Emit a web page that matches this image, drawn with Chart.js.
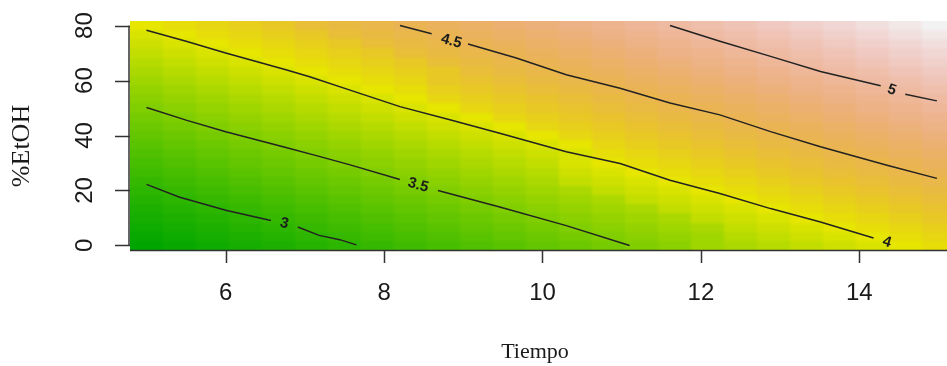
<!DOCTYPE html>
<html>
<head>
<meta charset="utf-8">
<script src="https://cdn.jsdelivr.net/npm/chart.js@4.4.0/dist/chart.umd.min.js"></script>
<style>
html, body { margin:0; padding:0; background:#fff; overflow:hidden; }
canvas { display:block; }
</style>
</head>
<body>
<canvas id="grafica" width="955" height="366" style="width:955px;height:366px"></canvas>
<script>
// rejilla: Tiempo (columnas) y %EtOH (filas)
var tiempos = [5.000, 5.417, 5.833, 6.250, 6.667, 7.083, 7.500, 7.917, 8.333, 8.750, 9.167, 9.583, 10.000,
    10.417, 10.833, 11.250, 11.667, 12.083, 12.500, 12.917, 13.333, 13.750, 14.167, 14.583, 15.000]
var etanol = [0, 3.333, 6.667, 10, 13.333, 16.667, 20, 23.333, 26.667, 30, 33.333, 36.667, 40,
    43.333, 46.667, 50, 53.333, 56.667, 60, 63.333, 66.667, 70, 73.333, 76.667, 80]

// respuesta estimada en cada celda (fila = %EtOH, de 0 a 80)
var respuesta = [
    [2.60,2.67,2.73,2.79,2.85,2.91,2.97,3.03,3.09,3.16,3.22,3.28,3.34,3.40,3.46,3.52,3.58,3.65,3.71,3.77,3.83,3.89,3.95,4.01,4.07],
    [2.66,2.72,2.79,2.85,2.91,2.97,3.03,3.09,3.15,3.21,3.28,3.34,3.40,3.46,3.52,3.58,3.64,3.70,3.77,3.83,3.89,3.95,4.01,4.07,4.13],
    [2.72,2.78,2.85,2.91,2.97,3.03,3.09,3.15,3.21,3.27,3.34,3.40,3.46,3.52,3.58,3.64,3.70,3.76,3.83,3.89,3.95,4.01,4.07,4.13,4.19],
    [2.78,2.84,2.91,2.97,3.03,3.09,3.15,3.21,3.27,3.33,3.40,3.46,3.52,3.58,3.64,3.70,3.76,3.82,3.89,3.95,4.01,4.07,4.13,4.19,4.25],
    [2.84,2.90,2.97,3.03,3.09,3.15,3.21,3.27,3.33,3.39,3.46,3.52,3.58,3.64,3.70,3.76,3.82,3.88,3.95,4.01,4.07,4.13,4.19,4.25,4.31],
    [2.90,2.96,3.02,3.09,3.15,3.21,3.27,3.33,3.39,3.45,3.51,3.58,3.64,3.70,3.76,3.82,3.88,3.94,4.00,4.07,4.13,4.19,4.25,4.31,4.37],
    [2.96,3.02,3.08,3.15,3.21,3.27,3.33,3.39,3.45,3.51,3.57,3.64,3.70,3.76,3.82,3.88,3.94,4.00,4.06,4.13,4.19,4.25,4.31,4.37,4.43],
    [3.02,3.08,3.14,3.20,3.27,3.33,3.39,3.45,3.51,3.57,3.63,3.69,3.76,3.82,3.88,3.94,4.00,4.06,4.12,4.18,4.25,4.31,4.37,4.43,4.49],
    [3.08,3.14,3.20,3.26,3.32,3.39,3.45,3.51,3.57,3.63,3.69,3.75,3.81,3.88,3.94,4.00,4.06,4.12,4.18,4.24,4.30,4.37,4.43,4.49,4.55],
    [3.14,3.20,3.26,3.32,3.38,3.45,3.51,3.57,3.63,3.69,3.75,3.81,3.87,3.94,4.00,4.06,4.12,4.18,4.24,4.30,4.36,4.43,4.49,4.55,4.61],
    [3.20,3.26,3.32,3.38,3.44,3.50,3.57,3.63,3.69,3.75,3.81,3.87,3.93,3.99,4.06,4.12,4.18,4.24,4.30,4.36,4.42,4.48,4.55,4.61,4.67],
    [3.26,3.32,3.38,3.44,3.50,3.56,3.63,3.69,3.75,3.81,3.87,3.93,3.99,4.05,4.12,4.18,4.24,4.30,4.36,4.42,4.48,4.54,4.61,4.67,4.73],
    [3.32,3.38,3.44,3.50,3.56,3.62,3.69,3.75,3.81,3.87,3.93,3.99,4.05,4.11,4.18,4.24,4.30,4.36,4.42,4.48,4.54,4.60,4.67,4.73,4.79],
    [3.38,3.44,3.50,3.56,3.62,3.68,3.75,3.81,3.87,3.93,3.99,4.05,4.11,4.17,4.24,4.30,4.36,4.42,4.48,4.54,4.60,4.66,4.73,4.79,4.85],
    [3.44,3.50,3.56,3.62,3.68,3.74,3.80,3.87,3.93,3.99,4.05,4.11,4.17,4.23,4.29,4.36,4.42,4.48,4.54,4.60,4.66,4.72,4.78,4.85,4.91],
    [3.50,3.56,3.62,3.68,3.74,3.80,3.86,3.92,3.99,4.05,4.11,4.17,4.23,4.29,4.35,4.41,4.48,4.54,4.60,4.66,4.72,4.78,4.84,4.90,4.97],
    [3.56,3.62,3.68,3.74,3.80,3.86,3.92,3.98,4.05,4.11,4.17,4.23,4.29,4.35,4.41,4.47,4.54,4.60,4.66,4.72,4.78,4.84,4.90,4.96,5.03],
    [3.61,3.68,3.74,3.80,3.86,3.92,3.98,4.04,4.10,4.17,4.23,4.29,4.35,4.41,4.47,4.53,4.59,4.66,4.72,4.78,4.84,4.90,4.96,5.02,5.08],
    [3.67,3.74,3.80,3.86,3.92,3.98,4.04,4.10,4.16,4.23,4.29,4.35,4.41,4.47,4.53,4.59,4.65,4.72,4.78,4.84,4.90,4.96,5.02,5.08,5.14],
    [3.73,3.79,3.86,3.92,3.98,4.04,4.10,4.16,4.22,4.28,4.35,4.41,4.47,4.53,4.59,4.65,4.71,4.77,4.84,4.90,4.96,5.02,5.08,5.14,5.20],
    [3.79,3.85,3.92,3.98,4.04,4.10,4.16,4.22,4.28,4.34,4.41,4.47,4.53,4.59,4.65,4.71,4.77,4.83,4.90,4.96,5.02,5.08,5.14,5.20,5.26],
    [3.85,3.91,3.98,4.04,4.10,4.16,4.22,4.28,4.34,4.40,4.47,4.53,4.59,4.65,4.71,4.77,4.83,4.89,4.96,5.02,5.08,5.14,5.20,5.26,5.32],
    [3.91,3.97,4.03,4.10,4.16,4.22,4.28,4.34,4.40,4.46,4.52,4.59,4.65,4.71,4.77,4.83,4.89,4.95,5.01,5.08,5.14,5.20,5.26,5.32,5.38],
    [3.97,4.03,4.09,4.16,4.22,4.28,4.34,4.40,4.46,4.52,4.58,4.65,4.71,4.77,4.83,4.89,4.95,5.01,5.07,5.14,5.20,5.26,5.32,5.38,5.44],
    [4.03,4.09,4.15,4.21,4.28,4.34,4.40,4.46,4.52,4.58,4.64,4.70,4.77,4.83,4.89,4.95,5.01,5.07,5.13,5.19,5.26,5.32,5.38,5.44,5.50]
]

// curvas de nivel (null = hueco de la etiqueta)
var curva_3_t = [5.00, 5.41, 6.00, 6.57, null, 6.91, 7.18, 7.44, 7.65]
var curva_3_e = [22.2, 17.6, 12.8, 9.1, null, 6.7, 3.65, 2.1, 0.2]
var curva_35_t = [5.00, 5.50, 6.00, 6.76, 7.18, 7.56, 8.20, null, 8.68, 9.46, 10.30, 11.10]
var curva_35_e = [50.2, 45.6, 41.4, 35.6, 32.4, 29.4, 24.0, null, 20.0, 14.0, 7.2, 0.0]
var curva_4_t = [5.00, 5.50, 6.00, 6.76, 7.06, 7.56, 8.20, 8.83, 9.46, 10.30, 10.98, 11.61, 12.24, 12.88, 13.51, 14.18]
var curva_4_e = [78.3, 74.3, 70.0, 63.9, 61.4, 56.6, 50.5, 45.7, 40.8, 34.1, 29.8, 23.7, 18.9, 13.4, 8.5, 2.7]
var curva_45_t = [8.20, 8.60, null, 9.06, 9.67, 10.30, 10.98, 11.61, 12.24, 12.88, 13.51, 14.35, 14.98]
var curva_45_e = [80.0, 77.0, null, 73.3, 68.2, 62.1, 57.2, 51.8, 47.5, 41.4, 35.9, 29.2, 24.4]
var curva_5_t = [11.61, 12.24, 12.88, 13.51, 14.27, null, 14.58, 14.98]
var curva_5_e = [80.0, 74.3, 68.8, 63.3, 58.1, null, 55.0, 52.6]

var niveles = ["3", "3.5", "4", "4.5", "5"]
var etiqueta_t = [6.74, 8.43, 14.35, 8.85, 14.41]
var etiqueta_e = [8.0, 21.9, 1.2, 74.3, 56.6]

var ticks_tiempo = [6, 8, 10, 12, 14]
var ticks_etanol = [0, 20, 40, 60, 80]

var titulo_x = "Tiempo"
var titulo_y = "%EtOH"

// paleta terrain.colors de R
function hsv_a_rgb(h, s, v) {
    var i = Math.floor(h * 6), f = h * 6 - i
    var p = v * (1 - s), q = v * (1 - f * s), t = v * (1 - (1 - f) * s)
    var r, g, b
    switch (((i % 6) + 6) % 6) {
        case 0: r = v; g = t; b = p; break
        case 1: r = q; g = v; b = p; break
        case 2: r = p; g = v; b = t; break
        case 3: r = p; g = q; b = v; break
        case 4: r = t; g = p; b = v; break
        default: r = v; g = p; b = q
    }
    return "rgb(" + Math.round(r * 255) + "," + Math.round(g * 255) + "," + Math.round(b * 255) + ")"
}
function terrain_colors(n) {
    var k = Math.floor(n / 2), cols = []
    for (var a = 0; a < k; a++) {
        var f = k > 1 ? a / (k - 1) : 0
        cols.push(hsv_a_rgb(4 / 12 + (2 / 12 - 4 / 12) * f, 1, 0.65 + (0.9 - 0.65) * f))
    }
    var m = n - k + 1
    for (var b = 1; b < m; b++) {
        var g = b / (m - 1)
        cols.push(hsv_a_rgb(2 / 12 * (1 - g), 1 - g, 0.9 + 0.05 * g))
    }
    return cols
}

function bordes(valores) {
    var r = []
    for (var i = 0; i <= valores.length; i++) {
        if (i == 0) r.push(valores[0] - (valores[1] - valores[0]) / 2)
        else if (i == valores.length) r.push(valores[i - 1] + (valores[i - 1] - valores[i - 2]) / 2)
        else r.push((valores[i - 1] + valores[i]) / 2)
    }
    return r
}
var bordes_t = bordes(tiempos)
var bordes_e = bordes(etanol)

function puntos(ts, es) {
    return ts.map(function (v, k) {
        if (v === null) return { x: ts[k - 1], y: null }
        return { x: v, y: es[k] }
    })
}
var curvas = [
    puntos(curva_3_t, curva_3_e), puntos(curva_35_t, curva_35_e), puntos(curva_4_t, curva_4_e),
    puntos(curva_45_t, curva_45_e), puntos(curva_5_t, curva_5_e)
]

var plugin_imagen = {
    id: "imagen",
    beforeDatasetsDraw: function (chart) {
        var ctx = chart.ctx, xs = chart.scales.x, ys = chart.scales.y, area = chart.chartArea
        var paleta = terrain_colors(50)
        var todos = [].concat.apply([], respuesta)
        var zmin = Math.min.apply(null, todos), zmax = Math.max.apply(null, todos)
        // se pinta en un lienzo aparte y luego se suaviza un poco
        var lienzo = document.createElement("canvas")
        lienzo.width = chart.width
        lienzo.height = chart.height
        var c2 = lienzo.getContext("2d")
        for (var j = 0; j < etanol.length; j++) {
            var ya = Math.round(ys.getPixelForValue(bordes_e[j + 1]))
            var yb = Math.round(ys.getPixelForValue(bordes_e[j]))
            if (j == etanol.length - 1) ya -= 8
            if (j == 0) yb += 8
            for (var i = 0; i < tiempos.length; i++) {
                var xa = Math.round(xs.getPixelForValue(bordes_t[i]))
                var xb = Math.round(xs.getPixelForValue(bordes_t[i + 1]))
                if (i == 0) xa -= 8
                if (i == tiempos.length - 1) xb += 8
                var idx = Math.floor((respuesta[j][i] - zmin) / (zmax - zmin) * 50)
                if (idx > 49) idx = 49
                c2.fillStyle = paleta[idx]
                c2.fillRect(xa, ya, xb - xa, yb - ya)
            }
        }
        ctx.save()
        ctx.beginPath()
        ctx.rect(area.left, area.top, area.right - area.left, area.bottom - area.top)
        ctx.clip()
        ctx.filter = "blur(1.6px)"
        ctx.drawImage(lienzo, 0, 0)
        ctx.restore()
    },
    afterDatasetsDraw: function (chart) {
        // etiquetas de las curvas
        var ctx = chart.ctx, xs = chart.scales.x, ys = chart.scales.y
        ctx.save()
        ctx.fillStyle = "#1c1c1c"
        ctx.font = "bold 15px 'Liberation Sans', Arial, sans-serif"
        ctx.textAlign = "center"
        ctx.textBaseline = "middle"
        curvas.forEach(function (c, n) {
            var g = -1
            for (var k = 0; k < c.length; k++) if (c[k].y === null) g = k
            var p0 = g > 0 ? c[g - 1] : c[c.length - 2]
            var p1 = g > 0 ? c[g + 1] : c[c.length - 1]
            var ang = Math.atan2(ys.getPixelForValue(p1.y) - ys.getPixelForValue(p0.y),
                xs.getPixelForValue(p1.x) - xs.getPixelForValue(p0.x))
            ctx.save()
            ctx.translate(xs.getPixelForValue(etiqueta_t[n]), ys.getPixelForValue(etiqueta_e[n]))
            ctx.rotate(ang)
            ctx.fillText(niveles[n], 0, 0)
            ctx.restore()
        })
        ctx.restore()
    },
    afterDraw: function (chart) {
        var ctx = chart.ctx, xs = chart.scales.x, ys = chart.scales.y, area = chart.chartArea
        ctx.save()
        ctx.strokeStyle = "#333"
        ctx.lineWidth = 1.5
        // ejes
        ctx.beginPath()
        ctx.moveTo(area.left, area.bottom + 0.5)
        ctx.lineTo(area.right, area.bottom + 0.5)
        ctx.moveTo(area.left - 1, ys.getPixelForValue(ticks_etanol[0]))
        ctx.lineTo(area.left - 1, ys.getPixelForValue(ticks_etanol[ticks_etanol.length - 1]))
        ticks_tiempo.forEach(function (v) {
            var x = Math.round(xs.getPixelForValue(v)) + 0.5
            ctx.moveTo(x, area.bottom)
            ctx.lineTo(x, area.bottom + 13)
        })
        ticks_etanol.forEach(function (v) {
            var y = Math.round(ys.getPixelForValue(v)) + 0.5
            ctx.moveTo(area.left - 15, y)
            ctx.lineTo(area.left, y)
        })
        ctx.stroke()

        ctx.fillStyle = "#1a1a1a"
        ctx.font = "24px 'Liberation Sans', Arial, sans-serif"
        ctx.textAlign = "center"
        ctx.textBaseline = "middle"
        ticks_tiempo.forEach(function (v) {
            ctx.fillText(String(v), xs.getPixelForValue(v), area.bottom + 43)
        })
        ticks_etanol.forEach(function (v) {
            ctx.save()
            ctx.translate(area.left - 45, ys.getPixelForValue(v))
            ctx.rotate(-Math.PI / 2)
            ctx.fillText(String(v), 0, 0)
            ctx.restore()
        })

        ctx.font = "22px 'Liberation Serif', 'Times New Roman', serif"
        ctx.fillText(titulo_x, 535, 352)
        ctx.save()
        ctx.font = "26px 'Liberation Serif', 'Times New Roman', serif"
        ctx.translate(22, 146)
        ctx.rotate(-Math.PI / 2)
        ctx.fillText(titulo_y, 0, 0)
        ctx.restore()
        ctx.restore()
    }
}

var grafica = new Chart(document.getElementById("grafica"), {
    type: "line",
    data: {
        datasets: curvas.map(function (c, n) {
            return {
                label: niveles[n],
                data: c,
                borderColor: "#222",
                borderWidth: 1.5,
                pointRadius: 0,
                tension: 0,
                fill: false,
                spanGaps: false
            }
        })
    },
    options: {
        responsive: false,
        animation: false,
        devicePixelRatio: 1,
        layout: { padding: { left: 130, top: 21, right: 0, bottom: 116 } },
        plugins: { legend: { display: false }, tooltip: { enabled: false } },
        scales: {
            x: { type: "linear", display: false, min: bordes_t[0], max: bordes_t[bordes_t.length - 1] },
            y: { type: "linear", display: false, min: bordes_e[0], max: bordes_e[bordes_e.length - 1] }
        }
    },
    plugins: [plugin_imagen]
})
</script>
</body>
</html>
